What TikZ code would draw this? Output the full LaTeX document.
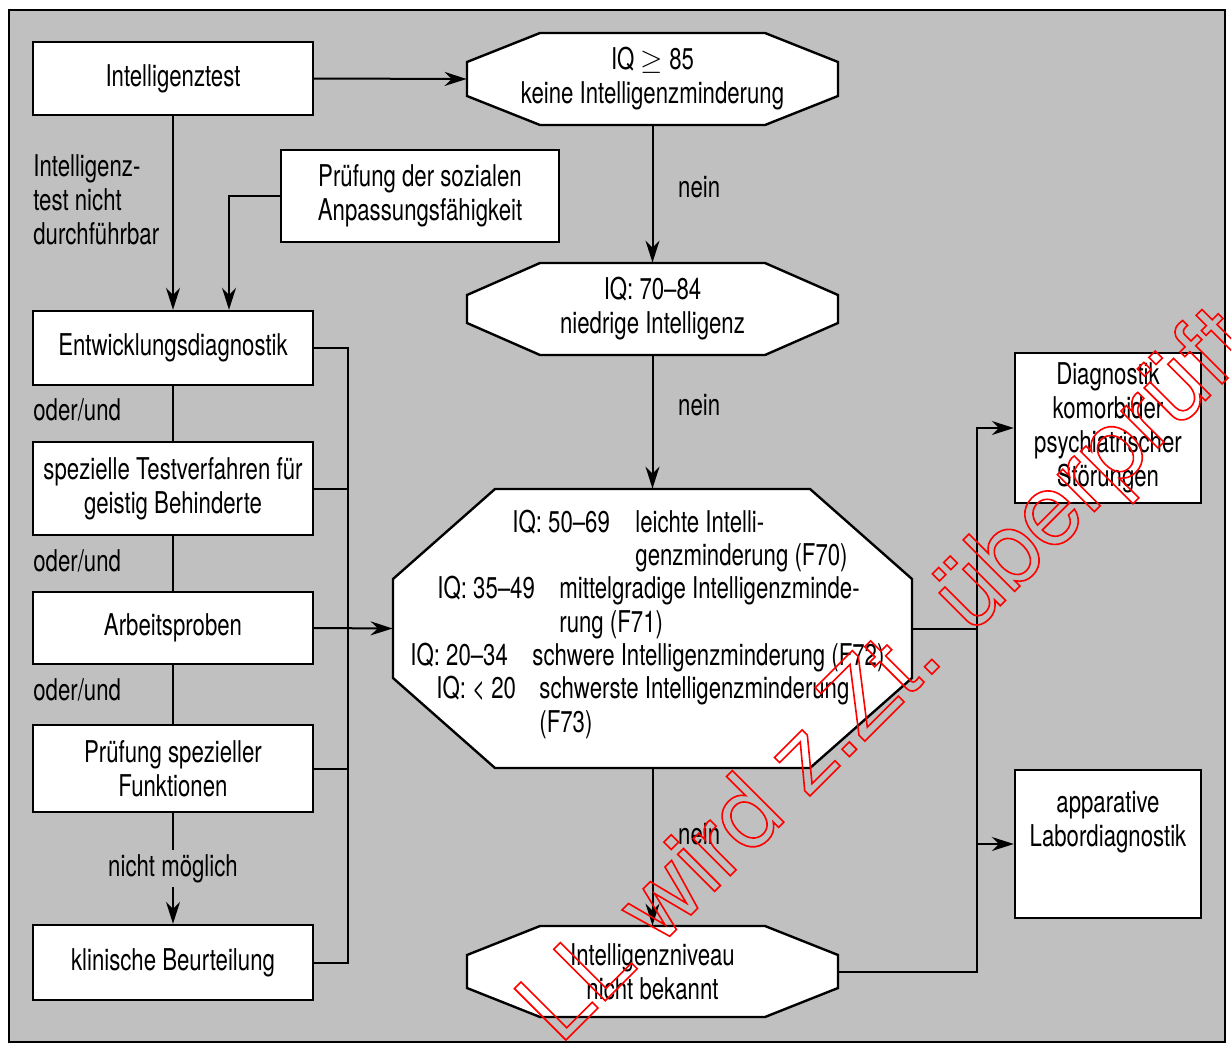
\documentclass[tikz,border=0pt]{standalone}
\usepackage{fontspec}
\setmainfont{TeX Gyre Heros}[FakeStretch=0.74]
\newfontfamily\wmfont{TeX Gyre Heros}
\usetikzlibrary{arrows.meta,positioning,calc,backgrounds}
\definecolor{bggray}{RGB}{192,192,192}

% octagon: name, position, half width, half height, chamfer x, chamfer y, text
\newcommand{\octnode}[7]{%
  \node[oct, minimum width=#3pt, minimum height=#4pt] (#1) at #2 {#7};
  \begin{pgfonlayer}{background}
  \draw[octline] ([shift={(-#3+#5,-#4)}]#1.center) -- ([shift={(#3-#5,-#4)}]#1.center)
    -- ([shift={(#3,-#4+#6)}]#1.center) -- ([shift={(#3,#4-#6)}]#1.center)
    -- ([shift={(#3-#5,#4)}]#1.center) -- ([shift={(-#3+#5,#4)}]#1.center)
    -- ([shift={(-#3,#4-#6)}]#1.center) -- ([shift={(-#3,-#4+#6)}]#1.center) -- cycle;
  \end{pgfonlayer}}

\begin{document}
\begin{tikzpicture}[
    x=0.5pt, y=-0.5pt,
    every node/.style={font=\fontsize{15}{17}\selectfont},
    box/.style={draw, fill=white, line width=1.2pt, align=center, minimum width=140pt, inner sep=0pt},
    oct/.style={align=center, inner sep=0pt},
    octline/.style={draw, fill=white, line width=1.2pt},
    iqline/.style={anchor=base west, inner sep=0pt},
    line/.style={line width=1pt},
    arr/.style={line width=1pt, -{Stealth[length=11pt,width=7pt]}},
    nein/.style={right, xshift=9pt}
]
    \useasboundingbox (0,0) rectangle (1231,1044);
    \begin{pgfonlayer}{background}
    \draw[line width=1.3pt, fill=bggray] (9,10) rectangle (1225,1042);
    \end{pgfonlayer}

    % Blocks left
    \node[box, minimum height=36.5pt] (intest) at (173,78.5) {Intelligenztest};
    \node[box, minimum width=139pt, minimum height=46pt] (sozial) at (420,196) {Prüfung der sozialen\\Anpassungsfähigkeit};
    \node[box, minimum height=37pt] (entw) at (173,348) {Entwicklungsdiagnostik};
    \node[box, minimum height=46.5pt] (spez) at (173,488.5) {spezielle Testverfahren für\\geistig Behinderte};
    \node[box, minimum height=36pt] (arbeit) at (173,628) {Arbeitsproben};
    \node[box, minimum height=43.5pt] (funk) at (173,768.5) {Prüfung spezieller\\Funktionen};
    \node[box, minimum height=37.5pt] (klin) at (173,962.5) {klinische Beurteilung};

    % Blocks right
    \node[box, minimum width=93pt, minimum height=75pt] (komorb) at (1108,428) {Diagnostik\\komorbider\\psychiatrischer\\Störungen};
    \node[box, minimum width=93pt, minimum height=74pt] (labor) at (1108,844) {};
    \node[align=center] (labortxt) at (1108,822) {apparative\\Labordiagnostik};

    % IQ levels
    \octnode{iq85}{(652.5,79)}{185.5}{46}{73}{29}{IQ $\geq$ 85\\keine Intelligenzminderung}
    \octnode{iq70}{(652.5,309)}{185.5}{46}{73}{32}{IQ: 70--84\\niedrige Intelligenz}
    \octnode{iqmain}{(652.5,628.5)}{259.5}{139.5}{102}{90}{}
    \octnode{niveau}{(652.5,971.5)}{185.5}{45.5}{73}{29}{Intelligenzniveau\\nicht bekannt}

    \node[iqline] (iq1) at (512,532) {IQ: 50--69};
    \node[iqline] (f70a) at (635,532) {leichte Intelli-};
    \node[iqline] (f70b) at (635,565) {genzminderung (F70)};
    \node[iqline] (iq2) at (437,598) {IQ: 35--49};
    \node[iqline] (f71a) at (559,598) {mittelgradige Intelligenzminde-};
    \node[iqline] (f71b) at (559,632) {rung (F71)};
    \node[iqline] (iq3) at (410,665) {IQ: 20--34};
    \node[iqline] (f72) at (532,665) {schwere Intelligenzminderung (F72)};
    \node[iqline] (iq4) at (436,698) {IQ: < 20};
    \node[iqline] (f73a) at (539,698) {schwerste Intelligenzminderung};
    \node[iqline] (f73b) at (539,732) {(F73)};

    % Labels
    \node[anchor=west, align=left, inner sep=0pt] (nichtdurch) at (33,200) {Intelligenz-\\test nicht\\durchführbar};
    \node[anchor=west, inner sep=0pt] (oder1) at (33,410) {oder/und};
    \node[anchor=west, inner sep=0pt] (oder2) at (33,561) {oder/und};
    \node[anchor=west, inner sep=0pt] (oder3) at (33,690) {oder/und};

    % Arrows
    \draw[arr] (intest.east) -- (iq85.west);
    \draw[arr] (intest) -- (entw);
    \draw[arr] (sozial.west) -| ([xshift=28pt]entw.north);
    \draw[arr] (iq85) -- node[nein, pos=0.45] (nein1) {nein} (iq70);
    \draw[arr] (iq70) -- node[nein, pos=0.37] (nein2) {nein} (iqmain);
    \draw[arr] (iqmain) -- node[nein, pos=0.42] (nein3) {nein} (niveau);

    \draw[line] (entw) -- (spez);
    \draw[line] (spez) -- (arbeit);
    \draw[line] (arbeit) -- (funk);
    \draw[arr] (funk) -- node[fill=bggray, inner sep=2pt] (nmoegl) {nicht möglich} (klin);

    \coordinate (busl) at (348,962.5);
    \draw[line] (entw.east) -| (busl) -- (klin.east);
    \draw[line] (spez.east) -- (spez.east -| busl);
    \draw[line] (funk.east) -- (funk.east -| busl);
    \draw[arr] (arbeit.east) -- (iqmain.west);

    \coordinate (busr) at (977,428);
    \draw[arr] (niveau.east) -| (busr) -- (komorb.west);
    \draw[line] (iqmain.east) -- (iqmain.east -| busr);
    \draw[arr] (labor.west -| busr) -- (labor.west);

    % Stamp
    \node[anchor=base west, rotate=45, text=red, inner sep=0pt, font=\wmfont\fontsize{50}{50}\selectfont] (stamp) at (560,1046)
        {\special{pdf:literal direct 1 Tr 0.8 w}LL wird z.Zt. überprüft\special{pdf:literal direct 0 Tr}};
\end{tikzpicture}
\end{document}
